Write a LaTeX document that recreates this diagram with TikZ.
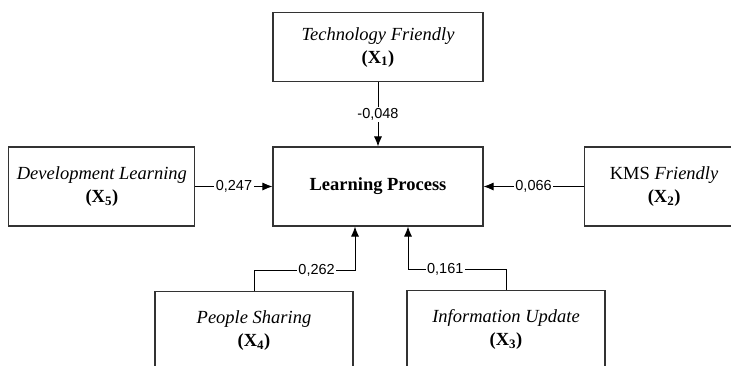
\documentclass[tikz,border=0pt]{standalone}
\usepackage{fontspec}
\setmainfont{Liberation Serif}
\newfontfamily\weightfont{Liberation Sans}
\usetikzlibrary{positioning,arrows.meta}
\tikzset{standard edge/.style={line width=0.9pt,-{Latex[length=10pt,width=8pt]}},
 weight/.style={fill=white,inner sep=1.5pt,font=\weightfont\fontsize{14.5}{16}\selectfont}}

\begin{document}
\begin{tikzpicture}[boot/.style={draw=black!80,line width=1.1pt,align=center,inner sep=2mm,minimum height=79pt,font=\fontsize{18.5}{23}\selectfont}]
\useasboundingbox (0,0) rectangle (731pt,-365pt);

\node[boot,minimum width=210pt,font=\bfseries\fontsize{18.5}{23}\selectfont] (LP) at (378pt,-186.5pt) {Learning Process};
\node[above=64pt of LP,boot,minimum width=210pt,minimum height=69pt] (TF) {\textit{Technology Friendly}\\ \textbf{(X\textsubscript{1})}};
\node[left=77pt of LP,boot,minimum width=186pt] (DL) {\textit{Development Learning}\\ \textbf{(X\textsubscript{5})}};
\node[right=100pt of LP,boot,minimum width=160pt] (KMS) {KMS \textit{Friendly}\\ \textbf{(X\textsubscript{2})}};
\node[below=64pt of LP,xshift=-124pt,boot,minimum width=198pt] (PS) {\textit{People Sharing}\\ \textbf{(X\textsubscript{4})}};
\node[below=63pt of LP,xshift=128pt,boot,minimum width=198pt] (IU) {\textit{Information Update}\\ \textbf{(X\textsubscript{3})}};

\coordinate (PSin) at ([xshift=-23pt]LP.south);
\coordinate (IUin) at ([xshift=30pt]LP.south);

\draw (TF) edge[standard edge] node[weight] {-0,048} (LP)
(DL) edge[standard edge] node[weight] {0,247} (LP)
(KMS) edge[standard edge] node[weight] {0,066} (LP);
\draw[standard edge] (PS.north) -- ++(0,20pt) -| node[weight,pos=0.31] {0,262} (PSin);
\draw[standard edge] (IU.north) -- ++(0,20pt) -| node[weight,pos=0.31] {0,161} (IUin);
\end{tikzpicture}
\end{document}
